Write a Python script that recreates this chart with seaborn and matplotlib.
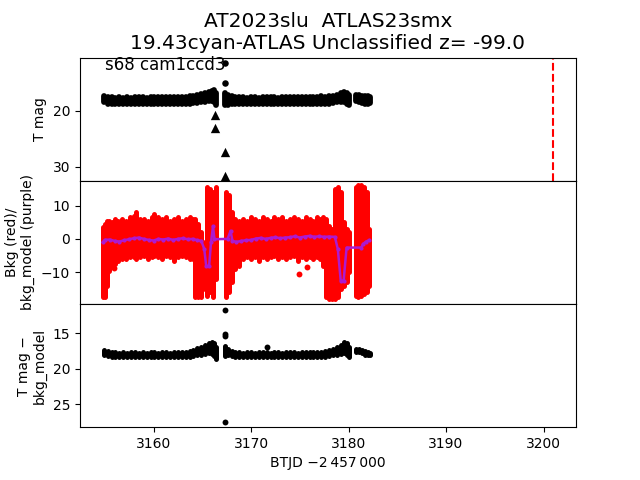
import matplotlib
matplotlib.use("Agg")
import matplotlib.pyplot as plt
import seaborn as sns
import numpy as np
import pandas as pd

# ---------------- data ----------------
title_text = "AT2023slu  ATLAS23smx\n19.43cyan-ATLAS Unclassified z= -99.0"
sector_text = "s68 cam1ccd3"
event_btjd = 3201.0

# time columns for the black light curves
btjd = [3154.9, 3155.3, 3155.7, 3156.1, 3156.5, 3156.9, 3157.3, 3157.7, 3158.1, 3158.5,
        3158.9, 3159.3, 3159.7, 3160.1, 3160.5, 3160.9, 3161.3, 3161.7, 3162.1, 3162.5,
        3162.9, 3163.3, 3163.7, 3164.1, 3164.5, 3164.9, 3165.3, 3165.7, 3166.0, 3166.2,
        3166.4,
        3167.3, 3167.6, 3168.0, 3168.4, 3168.8, 3169.2, 3169.6, 3170.0, 3170.4, 3170.8,
        3171.2, 3171.6, 3172.0, 3172.4, 3172.8, 3173.2, 3173.6, 3174.0, 3174.4, 3174.8,
        3175.2, 3175.6, 3176.0, 3176.4, 3176.8, 3177.2, 3177.6, 3178.0, 3178.4, 3178.8,
        3179.2, 3179.5, 3179.8, 3180.0,
        3180.8, 3181.1, 3181.4, 3181.7, 3182.0, 3182.2]

tmag_lo = [17.4, 17.5, 17.6, 17.7, 17.6, 17.7, 17.6, 17.7, 17.6, 17.5,
           17.6, 17.7, 17.6, 17.5, 17.6, 17.6, 17.5, 17.6, 17.6, 17.5,
           17.6, 17.5, 17.4, 17.3, 17.2, 17.0, 16.8, 16.6, 16.4, 16.3,
           16.9,
           16.9, 17.2, 17.4, 17.6, 17.5, 17.6, 17.7, 17.5, 17.6, 17.7,
           17.5, 17.6, 17.6, 17.5, 17.7, 17.6, 17.5, 17.6, 17.6, 17.5,
           17.6, 17.5, 17.6, 17.5, 17.5, 17.4, 17.5, 17.4, 17.3, 17.1,
           16.9, 16.7, 16.8, 17.2,
           17.1, 17.2, 17.3, 17.4, 17.4, 17.5]
tmag_hi = [18.5, 18.7, 18.8, 18.8, 18.7, 18.8, 18.8, 18.7, 18.8, 18.8,
           18.7, 18.8, 18.8, 18.7, 18.8, 18.7, 18.8, 18.8, 18.7, 18.8,
           18.7, 18.7, 18.7, 18.6, 18.6, 18.5, 18.4, 18.3, 18.2, 18.5,
           18.9,
           19.0, 18.9, 18.8, 18.7, 18.8, 18.7, 18.8, 18.8, 18.7, 18.8,
           18.7, 18.8, 18.8, 18.7, 18.8, 18.7, 18.8, 18.8, 18.7, 18.8,
           18.7, 18.8, 18.7, 18.8, 18.7, 18.7, 18.7, 18.7, 18.6, 18.5,
           18.4, 18.4, 18.7, 18.9,
           18.3, 18.5, 18.6, 18.7, 18.7, 18.6]

diff_lo = [17.3, 17.5, 17.7, 17.7, 17.8, 17.7, 17.8, 17.7, 17.7, 17.8,
           17.7, 17.8, 17.7, 17.7, 17.8, 17.7, 17.7, 17.8, 17.7, 17.7,
           17.7, 17.6, 17.5, 17.3, 17.1, 16.9, 16.6, 16.4, 16.3, 16.4,
           17.0,
           16.8, 17.2, 17.5, 17.7, 17.7, 17.8, 17.7, 17.7, 17.8, 17.7,
           17.7, 17.7, 17.8, 17.7, 17.7, 17.8, 17.7, 17.7, 17.7, 17.8,
           17.7, 17.7, 17.6, 17.7, 17.6, 17.6, 17.5, 17.4, 17.2, 16.9,
           16.6, 16.3, 16.4, 16.9,
           17.2, 17.2, 17.3, 17.5, 17.7, 17.8]
diff_hi = [18.0, 18.2, 18.3, 18.3, 18.4, 18.3, 18.4, 18.3, 18.4, 18.4,
           18.3, 18.4, 18.3, 18.4, 18.3, 18.4, 18.3, 18.4, 18.3, 18.4,
           18.3, 18.3, 18.3, 18.2, 18.1, 18.0, 17.9, 17.8, 17.9, 18.2,
           18.6,
           18.2, 18.1, 18.2, 18.3, 18.4, 18.3, 18.4, 18.3, 18.4, 18.3,
           18.4, 18.3, 18.4, 18.3, 18.4, 18.3, 18.4, 18.3, 18.4, 18.3,
           18.4, 18.3, 18.3, 18.3, 18.3, 18.3, 18.3, 18.2, 18.1, 18.0,
           17.9, 17.8, 18.0, 18.4,
           17.6, 17.7, 17.8, 18.0, 18.1, 18.1]

# isolated black points
tmag_pt_t = [3167.35, 3167.35]
tmag_pt_v = [11.4, 15.0]
ulim_t = [3166.3, 3166.35, 3167.3, 3167.3]
ulim_v = [20.7, 23.0, 27.3, 31.6]
diff_pt_t = [3171.6, 3167.3, 3167.3, 3167.3, 3167.3]
diff_pt_v = [16.9, 11.7, 15.05, 15.4, 27.5]

# background (red) columns
bkg_t = [3154.8, 3155.0, 3155.2, 3155.4, 3155.7, 3156.0, 3156.4, 3156.8, 3157.2, 3157.6,
         3158.0, 3158.2, 3158.6, 3159.0, 3159.4, 3159.8, 3160.1, 3160.5, 3160.9, 3161.3,
         3161.7, 3162.1, 3162.5, 3162.9, 3163.3, 3163.7, 3164.0, 3164.3, 3164.6, 3164.9,
         3165.1, 3165.5, 3165.8, 3166.1, 3166.4,
         3167.4, 3167.7, 3168.0, 3168.4, 3168.8, 3169.2, 3169.6, 3170.0, 3170.4, 3170.8,
         3171.2, 3171.6, 3172.0, 3172.4, 3172.8, 3173.2, 3173.6, 3174.0, 3174.4, 3174.8,
         3175.2, 3175.6, 3176.0, 3176.4, 3176.8, 3177.1, 3177.4, 3177.7, 3178.0, 3178.3,
         3178.6, 3178.9, 3179.2, 3179.5, 3179.8, 3180.0,
         3180.8, 3181.0, 3181.3, 3181.6, 3181.9, 3182.1]
bkg_lo = [-17.5, -17.5, -14.0, -9.5, -8.5, -7.5, -6.5, -6.0, -6.0, -5.5,
          -5.5, -6.0, -5.5, -5.0, -6.0, -5.5, -5.0, -5.5, -6.0, -5.0,
          -5.5, -6.5, -5.5, -5.0, -5.5, -6.0, -6.0, -17.5, -17.5, -17.5,
          -15.0, -17.0, -16.0, -17.5, -12.0,
          -17.5, -16.0, -13.0, -9.0, -8.0, -6.0, -5.5, -6.0, -5.5, -6.5,
          -5.5, -6.0, -5.5, -5.0, -6.0, -5.5, -6.0, -5.5, -5.0, -6.5,
          -5.5, -6.0, -5.5, -6.0, -5.5, -6.0, -8.0, -17.5, -18.0, -18.0,
          -18.0, -17.5, -15.0, -14.0, -13.0, -10.0,
          -17.0, -17.5, -17.0, -16.5, -16.0, -14.0]
bkg_hi = [3.5, 4.5, 5.5, 5.5, 5.0, 6.0, 5.5, 6.0, 5.5, 6.5,
          7.0, 8.2, 6.0, 6.0, 5.5, 6.5, 7.5, 6.5, 6.0, 6.5,
          5.5, 6.0, 6.5, 5.5, 6.0, 6.5, 6.0, 6.0, 4.5, 2.0,
          -1.0, 15.5, 15.0, 14.0, 15.5,
          14.0, 13.0, 8.0, 6.0, 5.5, 6.0, 5.5, 6.5, 6.0, 5.5,
          6.5, 6.0, 5.5, 6.5, 6.0, 6.5, 5.5, 6.0, 6.5, 6.0,
          5.5, 6.5, 6.0, 5.5, 6.5, 6.0, 6.5, 6.0, 4.0, 3.0,
          15.0, 15.5, 14.0, 5.0, 3.0, 2.0,
          15.5, 16.0, 16.0, 15.5, 14.0, 3.0]
bkg_pt_t = [3174.9, 3175.7, 3155.9]
bkg_pt_v = [-10.6, -8.5, -8.7]

# background model (purple)
model_t = [3154.8, 3155.0, 3155.5, 3156.0, 3156.5, 3157.0, 3157.5, 3158.0, 3158.5, 3159.0,
           3159.5, 3160.0, 3160.5, 3161.0, 3161.5, 3162.0, 3162.5, 3163.0, 3163.5, 3164.0,
           3164.5, 3164.9, 3165.2, 3165.4, 3165.7, 3165.9, 3166.1, 3166.25, 3167.6, 3167.9,
           3168.1, 3168.5, 3169.0, 3169.5, 3170.0, 3170.5, 3171.0, 3171.5, 3172.0, 3172.5,
           3173.0, 3173.5, 3174.0, 3174.5, 3175.0, 3175.5, 3176.0, 3176.5, 3177.0, 3177.5,
           3178.0, 3178.6, 3178.9, 3179.2, 3179.5, 3179.8, 3181.3, 3181.5, 3181.8, 3182.1]
model_v = [-1.0, -0.3, -0.2, -0.6, -0.8, -0.4, -0.1, 0.2, 0.4, 0.0,
           -0.3, -0.5, 0.0, -0.2, 0.1, -0.3, 0.0, 0.2, -0.1, 0.0,
           -0.4, -0.6, -3.0, -8.0, -8.2, -1.0, 3.8, -0.1, 0.0, 2.4,
           -0.6, -0.9, -0.6, -0.4, -0.3, 0.1, 0.3, 0.0, 0.3, 0.5,
           0.2, 0.4, 0.5, 0.8, 0.4, 0.7, 0.9, 0.6, 0.8, 0.6,
           0.7, 0.6, -3.0, -12.5, -12.5, -2.6, -2.6, -1.5, -0.8, -0.4]

# ---------------- plot ----------------
plt.rcParams['font.family'] = ['DejaVu Sans']
fig, axes = plt.subplots(3, 1, figsize=(6.4, 4.8), dpi=100, sharex=True)
fig.subplots_adjust(hspace=0)
ax1, ax2, ax3 = axes

# top panel: T mag
ax1.vlines(btjd, tmag_lo, tmag_hi, colors='black', lw=4.2, capstyle='round')
sns.scatterplot(x=tmag_pt_t, y=tmag_pt_v, ax=ax1, color='black', s=22, linewidth=0)
sns.scatterplot(x=ulim_t, y=ulim_v, ax=ax1, color='black', marker='^', s=45, linewidth=0)
ax1.axvline(event_btjd, color='red', ls='--', lw=1.5)
ax1.set_ylim(32.5, 10.5)
ax1.set_yticks([20, 30])
ax1.set_ylabel('T mag')
ax1.text(0.05, 0.9, sector_text, transform=ax1.transAxes, fontsize=12)
ax1.set_title(title_text, fontsize=14.5)

# middle panel: background
ax2.vlines(bkg_t, bkg_lo, bkg_hi, colors='red', lw=3.6, capstyle='round')
sns.scatterplot(x=bkg_pt_t, y=bkg_pt_v, ax=ax2, color='red', s=18, linewidth=0)
model_df = pd.DataFrame({'t': model_t, 'v': model_v})
sns.lineplot(data=model_df, x='t', y='v', ax=ax2, color='#ac1ad0', lw=1.8,
             sort=False, estimator=None, marker='o', markersize=3, markeredgewidth=0)
ax2.set_ylim(-19.5, 17.4)
ax2.set_yticks([-10, 0, 10])
ax2.set_ylabel('Bkg (red)/\nbkg_model (purple)')

# bottom panel: T mag - bkg_model
ax3.vlines(btjd, diff_lo, diff_hi, colors='black', lw=3.6, capstyle='round')
sns.scatterplot(x=diff_pt_t, y=diff_pt_v, ax=ax3, color='black', s=18, linewidth=0)
ax3.set_ylim(28.2, 10.9)
ax3.set_yticks([15, 20, 25])
ax3.set_ylabel('T mag \u2212\nbkg_model')

ax3.set_xlim(3152.46, 3203.33)
ax3.set_xticks([3160, 3170, 3180, 3190, 3200])
ax1.set_xlabel('')
ax2.set_xlabel('')
ax3.set_xlabel('BTJD \u22122\u2009457\u2009000')

fig.savefig('out.png', dpi=100)
